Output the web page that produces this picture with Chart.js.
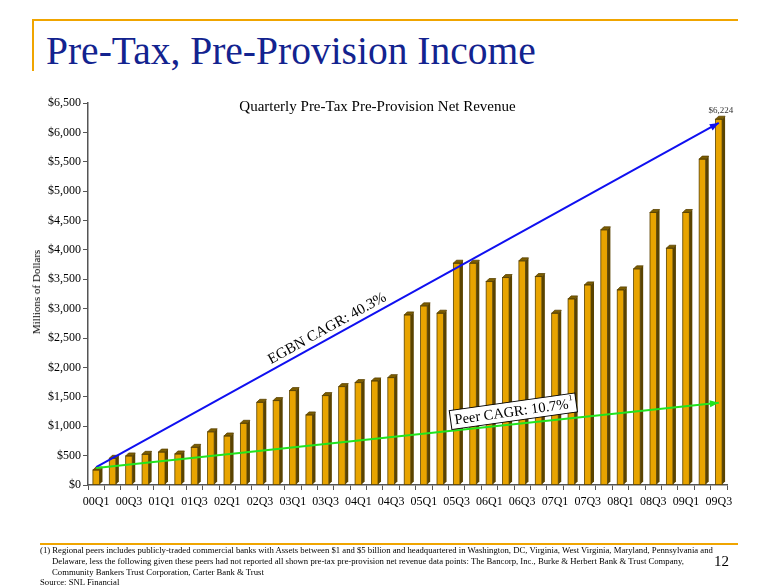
<!DOCTYPE html>
<html>
<head>
<meta charset="utf-8">
<script src="https://cdn.jsdelivr.net/npm/chart.js@4.4.1/dist/chart.umd.min.js"></script>
<style>
  html, body { margin: 0; padding: 0; background: #fff; }
  #slide { position: relative; width: 780px; height: 585px; overflow: hidden; font-family: "Liberation Serif", "Times New Roman", serif; }
  #chartWrap { position: absolute; left: 0; top: 0; width: 780px; height: 585px; }
  .rule { position: absolute; background: #F0A500; }
  #title { position: absolute; left: 46px; top: 28px; font-size: 39.5px; color: #13238F; white-space: nowrap; }
  #chartTitle { position: absolute; left: 0; width: 755px; top: 98px; text-align: center; font-size: 15px; color: #000; }
  #yTitle { position: absolute; left: 36px; top: 292px; font-size: 11px; color: #000; transform: translate(-50%, -50%) rotate(-90deg); white-space: nowrap; }
  #foot { position: absolute; left: 40px; top: 545px; font-size: 8.7px; line-height: 10.8px; color: #000; width: 690px; }
  #foot .ind { padding-left: 12px; }
  #pageNo { position: absolute; left: 714px; top: 553px; font-size: 15px; color: #000; }
</style>
</head>
<body>
<div id="slide">
  <div class="rule" style="left:32px;top:19px;width:706px;height:2px"></div>
  <div class="rule" style="left:32px;top:19px;width:2px;height:52px"></div>
  <div class="rule" style="left:40px;top:543px;width:698px;height:2px"></div>
  <div id="title">Pre-Tax, Pre-Provision Income</div>
  <div id="chartWrap"><canvas id="c" width="780" height="585"></canvas></div>
  <div id="chartTitle">Quarterly Pre-Tax Pre-Provision Net Revenue</div>
  <div id="yTitle">Millions of Dollars</div>
  <div id="foot">
    <div>(1) Regional peers includes publicly-traded commercial banks with Assets between $1 and $5 billion and headquartered in Washington, DC, Virginia, West Virginia, Maryland, Pennsylvania and</div>
    <div class="ind">Delaware, less the following given these peers had not reported all shown pre-tax pre-provision net revenue data points: The Bancorp, Inc., Burke &amp; Herbert Bank &amp; Trust Company,</div>
    <div class="ind">Community Bankers Trust Corporation, Carter Bank &amp; Trust</div>
    <div>Source: SNL Financial</div>
  </div>
  <div id="pageNo">12</div>
</div>
<script>
// --- Data ---
const quarters = [
  "00Q1","00Q2","00Q3","00Q4","01Q1","01Q2","01Q3","01Q4",
  "02Q1","02Q2","02Q3","02Q4","03Q1","03Q2","03Q3","03Q4",
  "04Q1","04Q2","04Q3","04Q4","05Q1","05Q2","05Q3","05Q4",
  "06Q1","06Q2","06Q3","06Q4","07Q1","07Q2","07Q3","07Q4",
  "08Q1","08Q2","08Q3","08Q4","09Q1","09Q2","09Q3"
];
const ppnr = [
  255, 454, 494, 522, 560, 528, 641, 905,
  834, 1050, 1407, 1436, 1606, 1192, 1521, 1674,
  1742, 1771, 1827, 2894, 3048, 2923, 3774, 3774,
  3462, 3530, 3814, 3547, 2923, 3167, 3405, 4342,
  3320, 3678, 4637, 4029, 4637, 5545, 6224
];
const egbnTrend = [{ x: "00Q1", y: 305 }, { x: "09Q3", y: 6160 }];
const peerTrend = [{ x: "00Q1", y: 290 }, { x: "09Q3", y: 1400 }];
const lastLabel = "$6,224";
const egbnText = "EGBN CAGR: 40.3%";
const peerText = "Peer CAGR: 10.7%";

const SERIF = "'Liberation Serif', 'Times New Roman', serif";
const GOLD = "#E8A400";
const DARK = "#5A4300";
const CAP = "#7D5E00";

// --- 3D bars, arrows, annotations ---
const decor = {
  id: "decor",
  afterDatasetDraw(chart, args) {
    const ctx = chart.ctx;
    const ds = chart.data.datasets[args.index];
    const meta = args.meta;
    if (ds.type === "bar") {
      const d = 3;
      ctx.save();
      meta.data.forEach(el => {
        const { x, y, base, width } = el.getProps(["x", "y", "base", "width"], true);
        const l = x - width / 2, r = x + width / 2;
        ctx.fillStyle = DARK;
        ctx.beginPath();
        ctx.moveTo(r, y); ctx.lineTo(r + d, y - d); ctx.lineTo(r + d, base - d); ctx.lineTo(r, base);
        ctx.closePath(); ctx.fill();
        ctx.fillStyle = CAP;
        ctx.beginPath();
        ctx.moveTo(l, y); ctx.lineTo(l + d, y - d); ctx.lineTo(r + d, y - d); ctx.lineTo(r, y);
        ctx.closePath(); ctx.fill();
        ctx.strokeStyle = DARK; ctx.lineWidth = 0.8;
        ctx.stroke();
        ctx.strokeRect(l, y, width, base - y);
      });
      const last = meta.data[meta.data.length - 1];
      ctx.fillStyle = "#333";
      ctx.font = "9px " + SERIF;
      ctx.textAlign = "center";
      ctx.textBaseline = "bottom";
      ctx.fillText(lastLabel, last.x + 2, last.y - 4);
      ctx.restore();
    } else if (ds.type === "line") {
      const pts = meta.data;
      const a = pts[0], b = pts[pts.length - 1];
      const ang = Math.atan2(b.y - a.y, b.x - a.x);
      ctx.save();
      ctx.fillStyle = ds.borderColor;
      ctx.translate(b.x, b.y);
      ctx.rotate(ang);
      ctx.beginPath();
      ctx.moveTo(0, 0); ctx.lineTo(-9, -3.5); ctx.lineTo(-9, 3.5);
      ctx.closePath(); ctx.fill();
      ctx.restore();

      ctx.save();
      ctx.fillStyle = "#000";
      if (ds.label === "egbn") {
        ctx.font = "15px " + SERIF;
        const t = 0.285;
        const px = a.x + (b.x - a.x) * t, py = a.y + (b.y - a.y) * t;
        ctx.translate(px, py);
        ctx.rotate(ang);
        ctx.textAlign = "left";
        ctx.textBaseline = "bottom";
        ctx.fillText(egbnText, 0, -2);
      } else {
        ctx.font = "14.5px " + SERIF;
        const t = 0.67;
        const px = a.x + (b.x - a.x) * t, py = a.y + (b.y - a.y) * t;
        ctx.translate(px, py - 13);
        ctx.rotate(-8 * Math.PI / 180);
        const w = ctx.measureText(peerText).width + 8;
        const h = 19;
        ctx.fillStyle = "#fff";
        ctx.fillRect(-w / 2 - 2, -h / 2, w + 4, h);
        ctx.strokeStyle = "#000"; ctx.lineWidth = 1;
        ctx.strokeRect(-w / 2 - 2, -h / 2, w + 4, h);
        ctx.fillStyle = "#000";
        ctx.textAlign = "left";
        ctx.textBaseline = "middle";
        ctx.fillText(peerText, -w / 2 + 2, 1);
        ctx.font = "8px " + SERIF;
        ctx.fillText("1", w / 2 - 5, -5);
      }
      ctx.restore();
    }
  }
};

new Chart(document.getElementById("c"), {
  type: "bar",
  data: {
    labels: quarters,
    datasets: [
      {
        type: "bar",
        data: ppnr,
        backgroundColor: GOLD,
        borderWidth: 0,
        barPercentage: 0.4,
        categoryPercentage: 1,
        order: 2,
      },
      {
        type: "line",
        label: "egbn",
        data: egbnTrend,
        borderColor: "#1010F0",
        borderWidth: 2,
        pointRadius: 0,
        tension: 0,
        order: 1,
      },
      {
        type: "line",
        label: "peer",
        data: peerTrend,
        borderColor: "#22E41E",
        borderWidth: 2,
        pointRadius: 0,
        tension: 0,
        order: 0,
      },
    ],
  },
  options: {
    responsive: false,
    animation: false,
    layout: { padding: { top: 103, right: 53, bottom: 0, left: 0 } },
    plugins: { legend: { display: false }, tooltip: { enabled: false }, title: { display: false } },
    scales: {
      x: {
        afterFit: (s) => { s.height = 100; },
        grid: { display: true, drawOnChartArea: false, tickLength: 5, color: "#555", offset: true },
        border: { color: "#555", width: 1.5 },
        ticks: {
          autoSkip: false,
          maxRotation: 0,
          padding: 5,
          color: "#000",
          font: { family: SERIF, size: 12 },
          callback: function (v, i) { return i % 2 === 0 ? this.getLabelForValue(v) : ""; },
        },
      },
      y: {
        min: 0,
        max: 6500,
        afterFit: (s) => { s.width = 88; },
        grid: { display: true, drawOnChartArea: false, tickLength: 5, color: "#555" },
        border: { color: "#555", width: 1.5 },
        ticks: {
          stepSize: 500,
          padding: 2,
          color: "#000",
          font: { family: SERIF, size: 12 },
          callback: (v) => "$" + Number(v).toLocaleString("en-US"),
        },
      },
    },
  },
  plugins: [decor],
});
</script>
</body>
</html>
